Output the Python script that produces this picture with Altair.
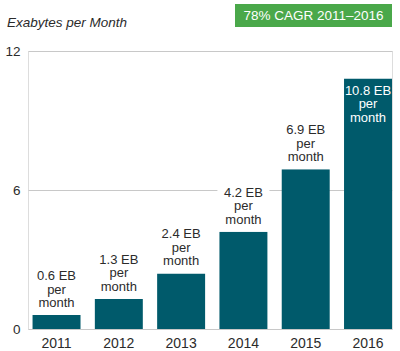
import altair as alt
import pandas as pd

years = ["2011", "2012", "2013", "2014", "2015", "2016"]
values = [0.6, 1.3, 2.4, 4.2, 6.9, 10.8]
labels = ["0.6 EB\nper\nmonth", "1.3 EB\nper\nmonth", "2.4 EB\nper\nmonth",
          "4.2 EB\nper\nmonth", "6.9 EB\nper\nmonth", "10.8 EB\nper\nmonth"]
y_ticks = [0, 6, 12]
title_text = "Exabytes per Month"
badge_text = "78% CAGR 2011\u20132016"

df = pd.DataFrame({"year": years, "value": values, "label": labels})

FONT = "Liberation Sans"
BAR = "#005a6b"
GREEN = "#4aa84a"
TXT = "#2b2b2b"

x = alt.X("year:N", sort=years,
          scale=alt.Scale(paddingInner=0.23, paddingOuter=0.0365, align=1),
          axis=alt.Axis(title=None, labelAngle=0, ticks=False, domain=False,
                        labelPadding=7, labelFontSize=14, labelColor=TXT,
                        labelFont=FONT, grid=False))
y = alt.Y("value:Q",
          scale=alt.Scale(domain=[0, 12], nice=False),
          axis=alt.Axis(title=None, values=y_ticks, ticks=False, domain=False,
                        grid=True, gridColor="#c8c8c8", gridWidth=1,
                        labelPadding=8, labelFontSize=13.5, labelColor=TXT,
                        labelFont=FONT))

base = alt.Chart(df)

bars = base.mark_bar(color=BAR).encode(x=x, y=y)

cover = base.transform_filter(alt.datum.year != "2016").transform_calculate(
    top="datum.value + 2.1"
).mark_bar(color="white", width=52).encode(x=x, y=y, y2="top:Q")

out_labels = base.transform_filter(alt.datum.year != "2016").mark_text(
    baseline="bottom", align="center", dy=-32, fontSize=13, lineHeight=13.5,
    lineBreak="\n", color=TXT, font=FONT
).encode(x=x, y=y, text="label:N")

in_labels = base.transform_filter(alt.datum.year == "2016").mark_text(
    baseline="top", align="center", dy=6, fontSize=13, lineHeight=13.5,
    lineBreak="\n", color="white", font=FONT
).encode(x=x, y=y, text="label:N")

title = alt.Chart(pd.DataFrame({"t": [title_text]})).mark_text(
    align="left", baseline="alphabetic", fontSize=13.5, fontStyle="italic",
    color=TXT, font=FONT
).encode(x=alt.value(-21), y=alt.value(-24), text="t:N")

badge_box = alt.Chart(pd.DataFrame({"t": [badge_text]})).mark_rect(color=GREEN).encode(
    x=alt.value(207), x2=alt.value(364), y=alt.value(-47), y2=alt.value(-24))

badge = alt.Chart(pd.DataFrame({"t": [badge_text]})).mark_text(
    align="center", baseline="middle", fontSize=13.5, color="white", font=FONT
).encode(x=alt.value(285.5), y=alt.value(-35), text="t:N")

chart = alt.layer(bars, cover, out_labels, in_labels, title, badge_box, badge).properties(
    width=364, height=278,
    autosize=alt.AutoSizeParams(type="none"),
    padding={"left": 28, "top": 51, "right": 8, "bottom": 22},
).configure_view(stroke=None).configure(background="white")

chart.save("out.html", embed_options={"renderer": "svg", "actions": False})
